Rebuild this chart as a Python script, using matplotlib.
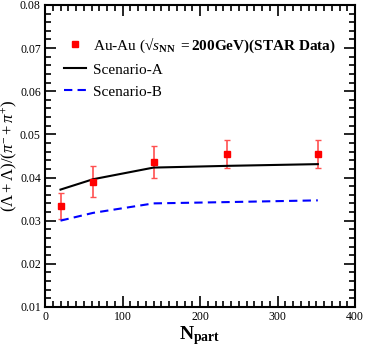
import matplotlib
matplotlib.use('Agg')
import matplotlib.pyplot as plt
from matplotlib.ticker import MultipleLocator
from matplotlib.lines import Line2D

plt.rcParams['font.family'] = 'Liberation Serif'
plt.rcParams['mathtext.fontset'] = 'custom'
plt.rcParams['mathtext.rm'] = 'Liberation Serif'
plt.rcParams['mathtext.it'] = 'Liberation Serif:italic'
plt.rcParams['mathtext.bf'] = 'Liberation Serif:bold'

# STAR data
npart_data = [20, 62, 140, 235, 352]
ratio_data = [0.0333, 0.0390, 0.0437, 0.0454, 0.0454]
ratio_err = [0.0030, 0.0036, 0.0037, 0.0033, 0.0033]

# model curves
npart_model = [20, 62, 140, 235, 352]
scen_a = [0.0372, 0.0396, 0.0423, 0.0427, 0.0431]
scen_b = [0.0300, 0.0318, 0.0340, 0.0343, 0.0347]

fig = plt.figure(figsize=(3.66, 3.54), dpi=100)
ax = fig.add_axes([0.123, 0.133, 0.847, 0.853])

ax.errorbar(npart_data, ratio_data, yerr=ratio_err, fmt='s', color='red',
            ms=5, ecolor='#ff5050', elinewidth=1.2, capsize=2.5)
la, = ax.plot(npart_model, scen_a, color='black', lw=1.5, label='Scenario-A')
lb, = ax.plot(npart_model, scen_b, color='blue', lw=1.5, ls=(0, (4, 2.5)), label='Scenario-B')
data_h = Line2D([], [], ls='none', marker='s', color='red', ms=5)

ax.set_xlim(0, 400)
ax.set_ylim(0.01, 0.08)
ax.xaxis.set_major_locator(MultipleLocator(100))
ax.xaxis.set_minor_locator(MultipleLocator(10))
ax.yaxis.set_major_locator(MultipleLocator(0.01))
ax.yaxis.set_minor_locator(MultipleLocator(0.002))
ax.tick_params(which='both', direction='in', top=True, right=True, width=1.2, labelsize=8.5)
ax.tick_params(which='major', length=8, pad=3)
ax.tick_params(which='minor', length=4)
ax.yaxis.set_major_formatter(matplotlib.ticker.FormatStrFormatter('%.2f'))
for s in ax.spines.values():
    s.set_linewidth(1.5)

ax.set_xlabel(r'$\mathbf{N_{part}}$', fontsize=14, labelpad=1)
fig.text(0.027, 0.56, r'$(\Lambda+\bar{\Lambda})/(\pi^{-}+\pi^{+})$', fontsize=12,
         rotation=90, ha='center', va='center')

ax.legend([data_h, la, lb],
          ['Au-Au (\u221a' + r'$\mathit{s}_{\mathbf{NN}}$ $\mathbf{= 200GeV)(STAR\ Data)}$',
           'Scenario-A', 'Scenario-B'],
          loc='upper left', bbox_to_anchor=(0.04, 0.92), frameon=False, fontsize=11,
          handlelength=1.45, handletextpad=0.45, labelspacing=0.55, borderaxespad=0)

fig.savefig('out.png', dpi=100)
